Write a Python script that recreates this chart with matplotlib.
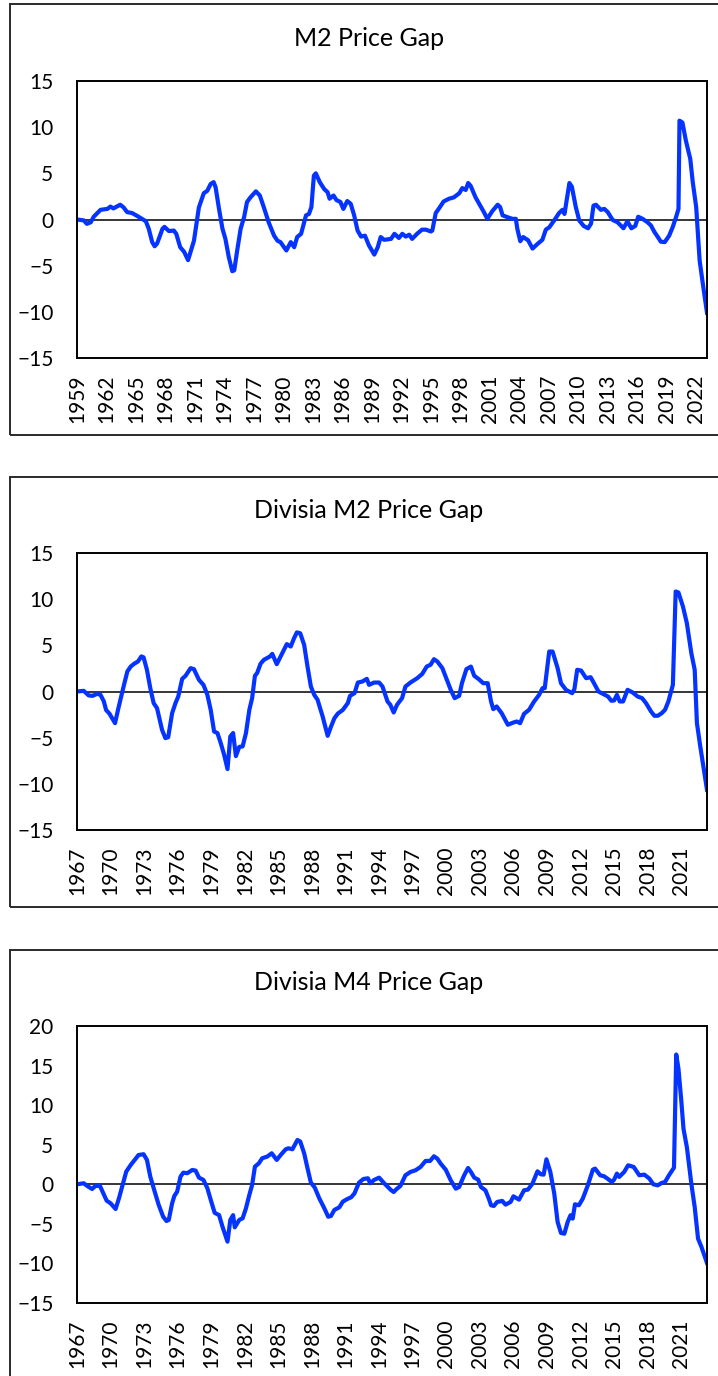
import matplotlib
matplotlib.use("Agg")
import matplotlib.pyplot as plt
from matplotlib.patches import Rectangle

plt.rcParams['font.family'] = ['Lato', 'DejaVu Sans']

# ---- data (year, gap in %) ----
m2_years = [1959.0, 1959.7, 1960.0, 1960.4, 1960.7, 1961.4, 1962.1, 1962.4, 1962.7, 1963.4,
            1963.75, 1964.1, 1964.6, 1965.1, 1965.6, 1966.0, 1966.3, 1966.65, 1966.9, 1967.15,
            1967.7, 1967.9, 1968.35, 1968.85, 1969.1, 1969.5, 1969.9, 1970.3, 1970.9, 1971.4,
            1971.9, 1972.25, 1972.6, 1972.9, 1973.1, 1973.45, 1973.8, 1974.1, 1974.45, 1974.8,
            1975.0, 1975.3, 1975.65, 1976.0, 1976.3, 1976.65, 1977.2, 1977.6, 1978.0, 1978.5,
            1979.05, 1979.4, 1979.7, 1980.3, 1980.75, 1981.1, 1981.4, 1981.8, 1982.3, 1982.6,
            1982.85, 1983.1, 1983.3, 1983.7, 1984.15, 1984.5, 1984.7, 1985.1, 1985.4, 1985.8,
            1986.1, 1986.5, 1986.85, 1987.2, 1987.55, 1987.9, 1988.3, 1988.7, 1989.25, 1989.6,
            1989.9, 1990.25, 1990.95, 1991.3, 1991.75, 1992.1, 1992.45, 1992.8, 1993.1, 1993.6,
            1994.1, 1994.5, 1995.0, 1995.15, 1995.5, 1995.8, 1996.3, 1996.85, 1997.35, 1997.9,
            1998.2, 1998.55, 1998.8, 1999.05, 1999.55, 2000.1, 2000.4, 2000.75, 2001.25, 2001.8,
            2002.05, 2002.3, 2002.8, 2003.3, 2003.65, 2003.8, 2004.1, 2004.4, 2004.9, 2005.35,
            2005.85, 2006.35, 2006.7, 2007.05, 2007.55, 2008.05, 2008.4, 2008.6, 2009.1, 2009.35,
            2009.75, 2010.1, 2010.55, 2011.0, 2011.3, 2011.55, 2011.8, 2012.3, 2012.65, 2013.0,
            2013.5, 2014.0, 2014.6, 2015.0, 2015.4, 2015.8, 2016.1, 2016.55, 2017.05, 2017.4,
            2017.75, 2018.1, 2018.4, 2018.8, 2019.25, 2019.6, 2019.95, 2020.2, 2020.3, 2020.6,
            2020.95, 2021.4, 2021.65, 2022.0, 2022.35, 2022.7, 2023.1]
m2_gap = [0.0, -0.1, -0.47, -0.3, 0.3, 1.05, 1.15, 1.4, 1.2, 1.6,
          1.3, 0.8, 0.7, 0.4, 0.07, -0.18, -1.0, -2.45, -2.9, -2.6,
          -1.0, -0.8, -1.25, -1.2, -1.55, -3.0, -3.5, -4.4, -2.3, 1.3,
          2.85, 3.1, 3.85, 4.05, 3.5, 1.15, -1.0, -2.1, -4.1, -5.6,
          -5.5, -3.35, -1.0, 0.25, 1.9, 2.4, 3.05, 2.6, 1.35, -0.3,
          -1.75, -2.3, -2.45, -3.35, -2.45, -3.0, -1.9, -1.55, 0.45, 0.6,
          1.35, 4.75, 5.0, 4.05, 3.3, 2.95, 2.25, 2.6, 2.1, 1.9,
          1.15, 2.0, 1.7, 0.45, -1.2, -1.85, -1.75, -2.8, -3.8, -3.0,
          -1.9, -2.2, -2.1, -1.55, -2.0, -1.55, -1.85, -1.65, -2.1, -1.55,
          -1.1, -1.1, -1.3, -1.2, 0.7, 1.15, 1.95, 2.25, 2.4, 2.85,
          3.4, 3.2, 3.95, 3.65, 2.4, 1.35, 0.8, 0.07, 0.9, 1.6,
          1.35, 0.45, 0.25, 0.07, 0.07, -1.0, -2.35, -1.9, -2.25, -3.15,
          -2.65, -2.2, -1.1, -0.85, -0.1, 0.7, 1.05, 0.6, 3.95, 3.55,
          1.35, -0.1, -0.7, -0.95, -0.45, 1.5, 1.6, 1.05, 1.15, 0.8,
          -0.05, -0.3, -0.95, -0.2, -0.95, -0.7, 0.3, 0.07, -0.3, -0.65,
          -1.35, -1.9, -2.4, -2.45, -1.75, -0.85, 0.25, 1.15, 10.7, 10.5,
          8.55, 6.55, 4.05, 1.35, -4.45, -7.15, -10.1]

dm2_years = [1967.0, 1967.6, 1968.05, 1968.4, 1968.8, 1969.1, 1969.4, 1969.6, 1969.9, 1970.4,
             1970.7, 1971.2, 1971.5, 1971.8, 1972.1, 1972.45, 1972.75, 1972.95, 1973.25, 1973.55,
             1973.85, 1974.15, 1974.6, 1974.9, 1975.15, 1975.5, 1975.8, 1976.05, 1976.4, 1976.7,
             1977.15, 1977.45, 1977.9, 1978.3, 1978.65, 1978.95, 1979.25, 1979.55, 1979.85, 1980.15,
             1980.45, 1980.7, 1980.95, 1981.2, 1981.5, 1981.8, 1982.1, 1982.4, 1982.65, 1982.9,
             1983.1, 1983.4, 1983.7, 1984.25, 1984.45, 1984.85, 1985.2, 1985.5, 1985.75, 1986.1,
             1986.4, 1986.65, 1986.95, 1987.3, 1987.6, 1987.9, 1988.2, 1988.5, 1988.95, 1989.4,
             1989.7, 1990.0, 1990.3, 1990.75, 1991.2, 1991.4, 1991.8, 1992.1, 1992.5, 1992.9,
             1993.1, 1993.55, 1994.0, 1994.3, 1994.75, 1995.0, 1995.3, 1995.6, 1996.05, 1996.35,
             1996.8, 1997.4, 1997.85, 1998.25, 1998.6, 1998.9, 1999.2, 1999.65, 2000.0, 2000.4,
             2000.75, 2001.15, 2001.4, 2001.8, 2002.2, 2002.5, 2002.9, 2003.3, 2003.7, 2004.0,
             2004.2, 2004.5, 2004.95, 2005.5, 2006.0, 2006.3, 2006.6, 2006.95, 2007.4, 2007.85,
             2008.3, 2008.6, 2008.8, 2009.2, 2009.5, 2009.95, 2010.25, 2010.7, 2011.25, 2011.45,
             2011.7, 2012.05, 2012.5, 2012.9, 2013.2, 2013.6, 2014.0, 2014.45, 2014.75, 2015.0,
             2015.25, 2015.5, 2015.8, 2016.2, 2016.65, 2017.1, 2017.5, 2017.85, 2018.3, 2018.6,
             2018.9, 2019.25, 2019.55, 2019.85, 2020.25, 2020.5, 2020.75, 2021.15, 2021.5, 2021.9,
             2022.2, 2022.4, 2022.7, 2023.3]
dm2_gap = [0.0, 0.07, -0.43, -0.47, -0.25, -0.36, -1.08, -2.0, -2.4, -3.43,
           -1.8, 0.72, 2.17, 2.7, 3.0, 3.25, 3.8, 3.7, 2.35, 0.36,
           -1.26, -1.8, -4.15, -5.05, -4.95, -2.35, -1.26, -0.54, 1.37, 1.7,
           2.53, 2.42, 1.26, 0.72, -0.36, -2.0, -4.33, -4.5, -5.6, -6.86,
           -8.4, -4.87, -4.5, -7.0, -6.0, -5.95, -4.5, -2.0, -0.72, 1.7,
           2.0, 3.0, 3.43, 3.8, 4.08, 2.96, 3.8, 4.5, 5.13, 4.87,
           5.78, 6.4, 6.3, 5.05, 2.7, 0.54, -0.36, -0.9, -2.7, -4.8,
           -3.8, -2.9, -2.4, -2.0, -1.26, -0.47, -0.18, 0.97, 1.08, 1.37,
           0.72, 0.97, 0.97, 0.54, -1.08, -1.44, -2.27, -1.44, -0.72, 0.54,
           0.97, 1.44, 1.9, 2.7, 2.9, 3.5, 3.25, 2.53, 1.44, 0.18,
           -0.72, -0.47, 0.9, 2.42, 2.7, 1.7, 1.34, 0.9, 0.9, -1.08,
           -1.91, -1.62, -2.35, -3.6, -3.36, -3.25, -3.43, -2.42, -1.98, -1.08,
           -0.36, 0.36, 0.36, 4.33, 4.33, 2.53, 0.9, 0.18, -0.18, 0.25,
           2.35, 2.27, 1.44, 1.55, 0.9, 0.0, -0.25, -0.54, -1.0, -0.97,
           -0.36, -1.08, -1.08, 0.18, -0.1, -0.54, -0.72, -1.26, -2.17, -2.63,
           -2.63, -2.35, -1.98, -1.08, 0.72, 10.83, 10.72, 9.2, 7.4, 4.15,
           2.35, -3.43, -5.96, -10.65]

dm4_years = [1967.0, 1967.6, 1967.9, 1968.35, 1968.65, 1969.05, 1969.35, 1969.65, 1970.0, 1970.45,
             1970.75, 1971.1, 1971.4, 1971.8, 1972.2, 1972.5, 1972.95, 1973.25, 1973.55, 1973.9,
             1974.3, 1974.7, 1975.0, 1975.2, 1975.5, 1975.7, 1975.95, 1976.25, 1976.5, 1976.85,
             1977.3, 1977.6, 1977.9, 1978.3, 1978.65, 1979.0, 1979.3, 1979.7, 1980.0, 1980.2,
             1980.45, 1980.7, 1980.95, 1981.1, 1981.5, 1981.8, 1982.1, 1982.4, 1982.65, 1982.9,
             1983.25, 1983.55, 1984.0, 1984.4, 1984.85, 1985.2, 1985.65, 1985.9, 1986.25, 1986.7,
             1986.95, 1987.3, 1987.6, 1987.9, 1988.25, 1988.65, 1989.1, 1989.45, 1989.7, 1990.0,
             1990.45, 1990.75, 1991.1, 1991.5, 1991.8, 1992.2, 1992.6, 1993.0, 1993.2, 1993.55,
             1994.0, 1994.45, 1995.05, 1995.3, 1995.6, 1995.9, 1996.35, 1996.8, 1997.25, 1997.7,
             1998.15, 1998.55, 1998.9, 1999.2, 1999.5, 1999.95, 2000.4, 2000.85, 2001.15, 2001.6,
             2001.95, 2002.2, 2002.5, 2002.85, 2003.1, 2003.5, 2003.8, 2004.0, 2004.25, 2004.55,
             2005.0, 2005.3, 2005.75, 2006.0, 2006.5, 2006.95, 2007.3, 2007.7, 2008.15, 2008.45,
             2008.7, 2008.95, 2009.3, 2009.65, 2009.95, 2010.25, 2010.55, 2010.85, 2011.1, 2011.3,
             2011.5, 2011.85, 2012.2, 2012.65, 2013.1, 2013.3, 2013.75, 2014.1, 2014.4, 2014.8,
             2015.0, 2015.25, 2015.45, 2015.9, 2016.25, 2016.75, 2017.25, 2017.7, 2018.15, 2018.5,
             2018.9, 2019.25, 2019.55, 2019.9, 2020.35, 2020.55, 2020.75, 2021.0, 2021.2, 2021.5,
             2021.9, 2022.2, 2022.5, 2022.8, 2023.3]
dm4_gap = [0.0, 0.13, -0.2, -0.6, -0.2, -0.2, -1.14, -2.07, -2.4, -3.12,
           -1.77, 0.04, 1.6, 2.44, 3.16, 3.7, 3.8, 3.08, 0.97, -0.72,
           -2.6, -4.1, -4.64, -4.5, -2.4, -1.47, -0.93, 0.97, 1.47, 1.4,
           1.81, 1.73, 0.84, 0.55, -0.5, -2.2, -3.6, -3.9, -5.35, -6.2,
           -7.25, -4.5, -3.9, -5.44, -4.5, -4.3, -3.03, -1.35, -0.08, 2.23,
           2.65, 3.29, 3.5, 3.92, 3.08, 3.7, 4.42, 4.55, 4.42, 5.6,
           5.4, 3.92, 2.02, 0.21, -0.42, -1.77, -3.03, -4.1, -4.0, -3.24,
           -2.9, -2.2, -1.9, -1.64, -1.14, 0.21, 0.67, 0.76, 0.13, 0.55,
           0.84, 0.13, -0.72, -0.97, -0.55, -0.21, 1.14, 1.56, 1.77, 2.19,
           2.95, 2.95, 3.54, 3.24, 2.61, 1.85, 0.5, -0.55, -0.34, 1.14,
           2.06, 1.56, 0.84, 0.59, -0.34, -0.76, -1.81, -2.65, -2.74, -2.23,
           -2.1, -2.57, -2.23, -1.52, -1.94, -0.76, -0.67, 0.08, 1.64, 1.26,
           1.22, 3.16, 1.56, -1.18, -4.76, -6.15, -6.24, -4.76, -3.92, -4.34,
           -2.53, -2.65, -1.81, -0.13, 1.85, 1.98, 1.14, 1.01, 0.72, 0.29,
           0.59, 1.35, 0.93, 1.56, 2.4, 2.19, 1.14, 1.22, 0.72, 0.0,
           -0.13, 0.17, 0.29, 1.14, 2.1, 16.4, 14.6, 10.6, 7.0, 4.7,
           0.08, -2.87, -6.87, -7.9, -9.95]

titles = ["M2 Price Gap", "Divisia M2 Price Gap", "Divisia M4 Price Gap"]
xticks_list = [list(range(1959, 2023, 3)), list(range(1967, 2022, 3)), list(range(1967, 2022, 3))]
yticks_list = [list(range(-15, 16, 5)), list(range(-15, 16, 5)), list(range(-15, 21, 5))]

W, H = 718, 1376
fig = plt.figure(figsize=(W / 100, H / 100), dpi=100)

# pixel layout of each panel: (frame top, frame bottom, plot top, plot bottom, title y)
panels = [(4, 435, 81, 358, 38), (477, 907, 553, 830, 510), (950, 1400, 1026, 1303, 982)]
series = [(m2_years, m2_gap), (dm2_years, dm2_gap), (dm4_years, dm4_gap)]

for i, (ftop, fbot, ptop, pbot, ty) in enumerate(panels):
    # chart-area border
    fig.patches.append(Rectangle((10 / W, 1 - fbot / H), 730 / W, (fbot - ftop) / H,
                                 transform=fig.transFigure, fill=False,
                                 edgecolor='#2a2a2a', linewidth=1.4, clip_on=False))
    fig.text(369 / W, 1 - ty / H, titles[i], ha='center', va='center', fontsize=18, color='black')

    ax = fig.add_axes([77 / W, 1 - pbot / H, 630 / W, (pbot - ptop) / H])
    x, y = series[i]
    ax.plot(x, y, color='#0533FF', lw=3.0, solid_joinstyle='round')
    ax.axhline(0, color='black', lw=1.1, zorder=1)
    ax.set_xlim(x[0], x[-1])
    yt = yticks_list[i]
    ax.set_ylim(yt[0], yt[-1])
    ax.set_yticks(yt)
    ax.set_xticks(xticks_list[i])
    ax.set_xticklabels([str(v) for v in xticks_list[i]], rotation=90)
    ax.tick_params(axis='both', length=0, labelsize=15)
    ax.tick_params(axis='y', pad=17)
    ax.tick_params(axis='x', pad=12)
    for s in ax.spines.values():
        s.set_linewidth(1.4)
        s.set_color('black')

fig.savefig("out.png", dpi=100)
